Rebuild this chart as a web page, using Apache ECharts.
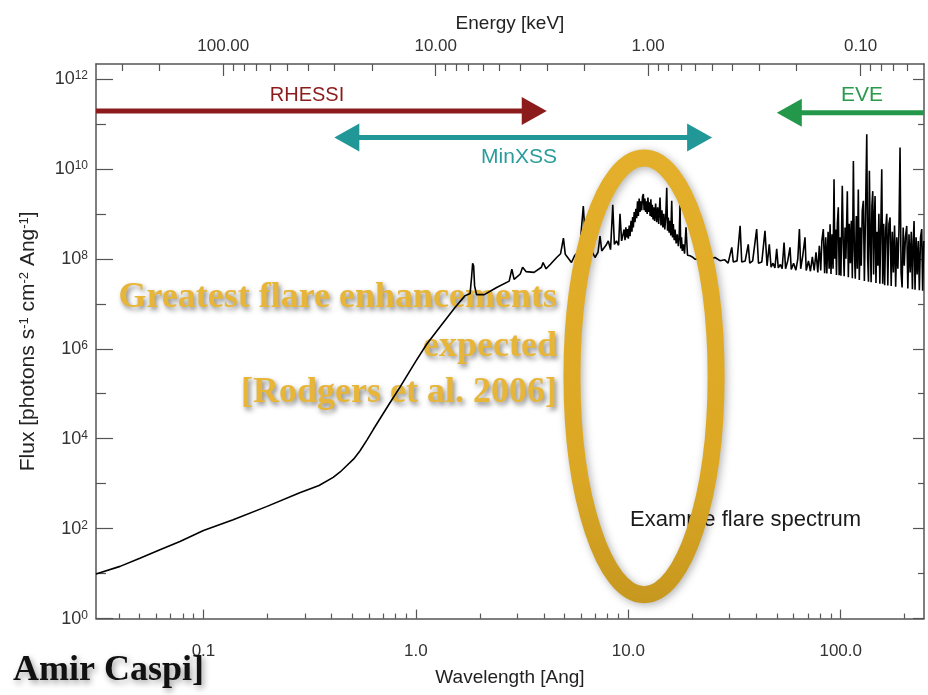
<!DOCTYPE html>
<html>
<head>
<meta charset="utf-8">
<script src="https://cdn.jsdelivr.net/npm/echarts@6/dist/echarts.min.js"></script>
<style>html,body{margin:0;padding:0;background:#fff}#chart{width:928px;height:695px}</style>
</head>
<body>
<div id="chart"></div>
<script>
// ---------------- data ----------------
// Wavelength [Angstrom]
const wavelength = [
  0.0312, 0.0405, 0.0502, 0.0624, 0.0775, 0.1, 0.138, 0.198, 0.284, 0.35, 0.408, 0.44, 0.472, 0.51, 0.546, 0.59,
  0.63, 0.75, 0.842, 1.0, 1.124, 1.3, 1.528, 1.70, 1.80, 1.83, 1.85, 1.87, 1.89, 1.93,
  2.1, 2.4, 2.75, 2.83, 2.9, 3.1, 3.18, 3.3, 3.6, 3.9, 3.97, 4.1, 4.3, 4.6, 4.8, 4.95, 5.05,
  5.4, 5.6, 5.9, 6.14, 6.3, 6.5, 6.73, 6.97, 7.2, 7.36, 7.5, 7.63, 7.85, 8.05, 8.25, 8.45,
  8.6, 8.8, 9.0, 9.14, 9.3,
  9.47, 9.56, 9.65, 9.74, 9.83, 9.92, 10.0, 10.1, 10.19, 10.3, 10.4, 10.48, 10.56, 10.66, 10.75,
  10.85, 10.95, 11.05, 11.15, 11.25, 11.35, 11.45, 11.56, 11.66, 11.77, 11.87, 11.97, 12.07, 12.17,
  12.27, 12.37, 12.47, 12.57, 12.67, 12.77, 12.87, 12.97, 13.07, 13.17, 13.3, 13.45, 13.6, 13.75,
  13.9, 14.1, 14.25, 14.4, 14.55, 14.7, 14.85, 15.0, 15.17, 15.3, 15.43, 15.56, 15.7, 15.85, 16.01,
  16.15, 16.29, 16.45, 16.6, 16.8, 17.0, 17.2, 17.35, 17.52, 17.65, 17.8, 17.95, 18.15, 18.4, 18.69,
  19.0, 19.52, 20.0, 20.6, 22.0, 23.5, 25.6, 27.0, 28.5, 29.5, 30.7, 31.2, 32.5, 33.6, 34.2,
  35.5, 36.7, 37.3, 38.5, 40.2, 41.0, 42.5, 44.0, 45.0, 46.1, 47.0, 48.0, 49.0, 49.96, 50.8,
  52.0, 53.0, 54.1, 55.0, 56.3, 57.7, 58.5, 60.0, 61.5, 62.8, 63.9, 64.8, 66.3, 67.9, 68.8,
  70.5, 72.0, 73.5, 75.0, 76.5, 78.0, 79.3, 80.5, 81.5, 82.8,
  84.0, 85.0, 86.0, 87.2, 88.2, 89.1, 90.0, 91.0, 92.0, 93.0, 93.8, 94.6, 95.5, 96.4, 97.4,
  98.3, 99.2, 100.2, 101.7, 102.8, 103.8, 104.8, 105.8, 107.4, 108.6, 109.8, 111.0, 112.2,
  113.4, 114.7, 115.9, 117.1, 118.4, 119.7, 121.0, 122.3, 123.6, 124.9, 126.3, 127.8, 129.2,
  130.6, 132.6, 133.9, 135.1, 136.4, 137.8, 139.0, 140.2, 141.5, 142.8, 144.0, 145.1, 146.5,
  148.0, 149.6, 151.2, 152.8, 154.4, 156.0, 157.6, 159.3, 161.0, 162.8, 164.7, 166.6, 168.6,
  170.7, 172.8, 174.9, 177.0, 179.2, 181.4, 183.6, 185.8, 188.0, 190.2, 192.3, 194.5, 196.8,
  199.1, 201.6, 204.5, 207.0, 209.6, 212.2, 214.8, 217.5, 219.5, 221.4, 223.8, 226.4, 229.0,
  231.8, 234.5, 237.5, 240.6, 243.0, 246.0
];
// Flux [photons s^-1 cm^-2 Ang^-1]
const flux = [
  9.8, 14.5, 22, 34, 52, 91, 158, 309, 630, 912, 1380, 1820, 2500, 3550, 5400, 9550,
  1.6e4, 6.0e4, 1.4e5, 5.3e5, 1.26e6, 3.1e6, 8.3e6, 1.5e7, 1.7e7, 4.0e7, 8.0e7, 7.0e7, 2.5e7, 1.6e7,
  1.6e7, 2.3e7, 3.2e7, 5.9e7, 3.5e7, 4.6e7, 6.5e7, 5.2e7, 5.0e7, 6.5e7, 8.3e7, 6.0e7, 7.6e7, 1.07e8, 1.3e8, 2.9e8, 1.26e8,
  8.3e7, 1.2e8, 1.5e8, 1.5e9, 2.0e8, 1.4e8, 1.5e8, 1.07e8, 1.4e8, 3.2e8, 1.5e8, 1.5e8, 2.0e8, 2.5e8, 1.6e8, 1.6e9,
  2.1e8, 2.5e8, 2.0e8, 1.0e9, 2.5e8,
  2.5e8, 4.5e8, 2.6e8, 5.0e8, 3.0e8, 4.6e8, 2.8e8, 5.5e8, 3.2e8, 7.0e8, 4.0e8, 8.5e8, 5.0e8, 1.1e9, 6.5e8,
  1.3e9, 8.0e8, 1.9e9, 9.0e8, 2.2e9, 1.1e9, 1.9e9, 1.2e9, 2.4e9, 2.75e9, 1.2e9, 2.2e9, 1.1e9, 1.9e9,
  1.0e9, 2.3e9, 1.1e9, 1.8e9, 9.0e8, 2.1e9, 8.5e8, 1.6e9, 7.5e8, 1.4e9, 7.0e8, 1.7e9, 6.5e8, 1.4e9,
  6.0e8, 2.3e9, 5.5e8, 1.2e9, 5.0e8, 1.0e9, 4.5e8, 8.0e8, 3.8e9, 4.2e8, 8.3e8, 3.8e8, 7.0e8, 3.3e8, 1.95e9,
  3.0e8, 5.9e8, 2.6e8, 4.5e8, 2.2e8, 3.5e8, 1.9e8, 3.0e8, 1.6e9, 1.7e8, 3.0e8, 1.5e8, 2.1e8, 1.3e8, 5.0e8,
  1.2e8, 1.17e8, 1.1e8, 9.8e7, 1.0e8, 9.5e7, 1.07e8, 9.1e7, 9.5e7, 8.0e7, 1.8e8, 8.5e7, 9.0e7, 5.4e8, 8.5e7,
  9.0e7, 2.1e8, 8.0e7, 9.0e7, 4.6e8, 8.0e7, 8.5e7, 4.2e8, 7.0e7, 2.1e8, 6.5e7, 8.0e7, 6.3e7, 1.66e8, 6.3e7,
  7.5e7, 6.0e7, 2.3e8, 6.0e7, 9.0e7, 1.8e8, 5.8e7, 8.0e7, 5.6e7, 1.0e8, 4.6e8, 6.0e7, 1.2e8, 3.0e8, 5.5e7,
  9.0e7, 5.3e7, 1.1e8, 5.5e7, 1.4e8, 5.0e7, 1.95e8, 5.5e7, 2.5e8, 4.6e8,
  4.8e7, 3.0e8, 4.7e7, 4.0e8, 6.0e7, 5.9e8, 4.6e7, 3.5e8, 6.0e7, 5.9e9, 1.0e8, 4.5e8, 4.4e7, 6.0e8, 1.4e9,
  4.3e7, 3.0e8, 4.2e7, 4.2e9, 2.0e8, 4.1e7, 5.0e8, 1.0e8, 3.2e9, 3.9e7, 6.0e8, 8.0e7, 7.0e8,
  3.7e7, 1.5e10, 1.5e8, 3.6e7, 9.0e8, 6.0e7, 3.5e9, 3.4e7, 5.0e8, 7.0e7, 1.2e9, 1.95e9, 3.2e7,
  6.0e8, 5.9e10, 1.0e8, 3.1e7, 9.1e9, 2.5e8, 3.0e7, 1.5e9, 3.2e9, 4.5e7, 8.0e8, 2.5e9, 2.9e7,
  4.0e8, 7.0e7, 1.0e9, 2.8e7, 5.0e8, 9.8e9, 2.8e7, 6.0e8, 2.6e7, 4.5e8, 1.0e9, 2.55e7, 6.0e8,
  8.3e8, 2.5e7, 4.0e8, 5.0e7, 5.5e8, 2.4e7, 3.0e8, 6.0e7, 4.5e8, 3.0e10, 5.0e7, 2.3e7, 5.0e8,
  7.0e7, 3.0e8, 5.4e8, 2.2e7, 3.5e8, 5.0e7, 4.0e8, 2.1e7, 2.5e8, 6.9e8, 2.05e7, 3.0e8, 4.5e7,
  2.5e8, 2.0e7, 3.0e8, 4.6e8, 1.95e7, 2.5e8
];

// Tick values
const wavelengthTicks = [0.1, 1, 10, 100];
const wavelengthMinorTicks = [0.04, 0.05, 0.06, 0.07, 0.08, 0.09, 0.2, 0.3, 0.4, 0.5, 0.6, 0.7, 0.8, 0.9,
  2, 3, 4, 5, 6, 7, 8, 9, 20, 30, 40, 50, 60, 70, 80, 90, 200];
const energyTicks = [100, 10, 1, 0.1];
const energyMinorTicks = [300, 200, 90, 80, 70, 60, 50, 40, 30, 20, 9, 8, 7, 6, 5, 4, 3, 2,
  0.9, 0.8, 0.7, 0.6, 0.5, 0.4, 0.3, 0.2, 0.09, 0.08, 0.07, 0.06];
const fluxTicks = [1, 1e2, 1e4, 1e6, 1e8, 1e10, 1e12];
const fluxMinorTicks = [1e1, 1e3, 1e5, 1e7, 1e9, 1e11];

// Instrument coverage (wavelength ranges, Angstrom) and arrow flux level
const instruments = ['RHESSI', 'MinXSS', 'EVE'];
const instrumentFrom = [0.00073, 0.413, 50];
const instrumentTo = [4.13, 24.8, 1050];
const instrumentFlux = [1.95e11, 4.97e10, 1.78e11];

// Highlighted region (wavelength left/right, flux bottom/top)
const highlightRegion = [5.43, 25.9, 3.4, 1.74e10];

// Axis ranges
const WL_MIN = 0.0312, WL_MAX = 246.6;
const FLUX_MIN = 1, FLUX_MAX = 2.15e12;
const HC = 12.398; // keV * Angstrom

// ---------------- styles ----------------
const FONT = '"Liberation Sans", Arial, Helvetica, sans-serif';
const SERIF = '"Liberation Serif", "Times New Roman", serif';
const AXIS_COLOR = '#555';
const LABEL_COLOR = '#333';
const arrowColors = ['#8c1c1c', '#229797', '#23984a'];
const GOLD_TEXT = '#e7b537';

const chart = echarts.init(document.getElementById('chart'), null, {renderer: 'canvas'});

const gridRect = {left: 96, right: 4, top: 64, bottom: 76.4, containLabel: false, outerBoundsMode: 'none'};

function tickStyle(len, values) {
  return {show: true, inside: true, length: len, customValues: values, lineStyle: {color: AXIS_COLOR, width: 1.2}};
}

function goldText(txt, x, y) {
  return {type: 'text', x: x, y: y, z: 1, style: {text: txt, font: 'bold 36px ' + SERIF, fill: GOLD_TEXT,
    align: 'right', verticalAlign: 'middle', textAlign: 'right', textVerticalAlign: 'middle',
    textShadowBlur: 5, textShadowColor: 'rgba(50,50,50,0.6)', textShadowOffsetX: 2, textShadowOffsetY: 3}};
}

const option = {
  animation: false,
  backgroundColor: '#ffffff',
  grid: [Object.assign({}, gridRect), Object.assign({}, gridRect)],
  xAxis: [
    { // wavelength, majors
      type: 'log', gridIndex: 0, position: 'bottom', min: WL_MIN, max: WL_MAX,
      name: 'Wavelength [Ang]', nameLocation: 'middle', nameGap: 50,
      nameTextStyle: {fontFamily: FONT, fontSize: 19, color: '#222'},
      axisLine: {show: true, lineStyle: {color: AXIS_COLOR, width: 1.5}},
      axisTick: tickStyle(9, wavelengthTicks),
      axisLabel: {customValues: wavelengthTicks, margin: 24, fontFamily: FONT, fontSize: 17, color: LABEL_COLOR,
        formatter: v => Number(v).toFixed(1)},
      splitLine: {show: false}, minorTick: {show: false}
    },
    { // energy, majors
      type: 'log', gridIndex: 0, position: 'top', inverse: true, min: HC / WL_MAX, max: HC / WL_MIN,
      name: 'Energy [keV]', nameLocation: 'middle', nameGap: 30,
      nameTextStyle: {fontFamily: FONT, fontSize: 19, color: '#222'},
      axisLine: {show: true, lineStyle: {color: AXIS_COLOR, width: 1.5}},
      axisTick: tickStyle(12, energyTicks),
      axisLabel: {customValues: energyTicks, margin: 9, fontFamily: FONT, fontSize: 17, color: LABEL_COLOR,
        formatter: v => Number(v).toFixed(2)},
      splitLine: {show: false}
    },
    { // wavelength minors
      type: 'log', gridIndex: 1, position: 'bottom', min: WL_MIN, max: WL_MAX,
      axisLine: {show: false}, axisTick: tickStyle(5, wavelengthMinorTicks),
      axisLabel: {show: false, customValues: wavelengthMinorTicks}, splitLine: {show: false}
    },
    { // energy minors
      type: 'log', gridIndex: 1, position: 'top', inverse: true, min: HC / WL_MAX, max: HC / WL_MIN,
      axisLine: {show: false}, axisTick: tickStyle(7, energyMinorTicks),
      axisLabel: {show: false, customValues: energyMinorTicks}, splitLine: {show: false}
    }
  ],
  yAxis: [
    {
      type: 'log', gridIndex: 0, position: 'left', min: FLUX_MIN, max: FLUX_MAX,
      name: 'Flux [photons s{s|-1} cm{s|-2} Ang{s|-1}]', nameLocation: 'middle', nameGap: 57, nameRotate: 90,
      nameTextStyle: {fontFamily: FONT, fontSize: 21, color: '#222',
        rich: {s: {fontFamily: FONT, fontSize: 13, verticalAlign: 'top', color: '#222'}}},
      axisLine: {show: true, lineStyle: {color: AXIS_COLOR, width: 1.5}},
      axisTick: tickStyle(17, fluxTicks),
      axisLabel: {customValues: fluxTicks, margin: 8, color: LABEL_COLOR,
        formatter: v => '{b|10}{s|' + Math.round(Math.log10(v)) + '}',
        rich: {
          b: {fontFamily: FONT, fontSize: 18, color: LABEL_COLOR},
          s: {fontFamily: FONT, fontSize: 12, verticalAlign: 'top', color: LABEL_COLOR}
        }},
      splitLine: {show: false}
    },
    {
      type: 'log', gridIndex: 0, position: 'right', min: FLUX_MIN, max: FLUX_MAX,
      axisLine: {show: true, lineStyle: {color: AXIS_COLOR, width: 1.5}},
      axisTick: tickStyle(11, fluxTicks),
      axisLabel: {show: false, customValues: fluxTicks}, splitLine: {show: false}
    },
    {
      type: 'log', gridIndex: 1, position: 'left', min: FLUX_MIN, max: FLUX_MAX,
      axisLine: {show: false}, axisTick: tickStyle(10, fluxMinorTicks),
      axisLabel: {show: false, customValues: fluxMinorTicks}, splitLine: {show: false}
    },
    {
      type: 'log', gridIndex: 1, position: 'right', min: FLUX_MIN, max: FLUX_MAX,
      axisLine: {show: false}, axisTick: tickStyle(6, fluxMinorTicks),
      axisLabel: {show: false, customValues: fluxMinorTicks}, splitLine: {show: false}
    }
  ],
  graphic: [
    {type: 'text', x: 307, y: 95, z: 1, style: {text: 'RHESSI', font: '20px ' + FONT, fill: arrowColors[0],
      align: 'center', verticalAlign: 'middle', textAlign: 'center', textVerticalAlign: 'middle'}},
    {type: 'text', x: 519, y: 157, z: 1, style: {text: 'MinXSS', font: '21px ' + FONT, fill: '#2a9c9c',
      align: 'center', verticalAlign: 'middle', textAlign: 'center', textVerticalAlign: 'middle'}},
    {type: 'text', x: 862, y: 95, z: 1, style: {text: 'EVE', font: '21px ' + FONT, fill: '#2a9a4c',
      align: 'center', verticalAlign: 'middle', textAlign: 'center', textVerticalAlign: 'middle'}},
    {type: 'text', x: 630, y: 520, z: 1, style: {text: 'Example flare spectrum', font: '22px ' + FONT, fill: '#1a1a1a',
      align: 'left', verticalAlign: 'middle', textAlign: 'left', textVerticalAlign: 'middle'}},
    goldText('Greatest flare enhancements', 557, 298),
    goldText('expected', 557, 347),
    goldText('[Rodgers et al. 2006]', 557, 393),
    {type: 'text', x: 13, y: 671, z: 100, style: {text: 'Amir Caspi]', font: 'bold 36px ' + SERIF, fill: '#111',
      align: 'left', verticalAlign: 'middle', textAlign: 'left', textVerticalAlign: 'middle',
      textShadowBlur: 6, textShadowColor: 'rgba(0,0,0,0.4)', textShadowOffsetX: 2, textShadowOffsetY: 3}}
  ],
  series: [
    {
      name: 'Example flare spectrum', type: 'line', xAxisIndex: 0, yAxisIndex: 0, z: 2,
      data: wavelength.map((w, i) => [w, flux[i]]),
      showSymbol: false, symbol: 'none', clip: true,
      lineStyle: {color: '#000', width: 1.6}
    },
    {
      name: 'highlight', type: 'custom', xAxisIndex: 0, yAxisIndex: 0, z: 5,
      data: [highlightRegion], encode: {x: [0, 1], y: [2, 3]},
      renderItem: (params, api) => {
        const p1 = api.coord([api.value(0), api.value(3)]);
        const p2 = api.coord([api.value(1), api.value(2)]);
        return {
          type: 'ellipse',
          shape: {cx: (p1[0] + p2[0]) / 2, cy: (p1[1] + p2[1]) / 2,
                  rx: Math.abs(p2[0] - p1[0]) / 2, ry: Math.abs(p2[1] - p1[1]) / 2},
          style: {
            fill: 'none', lineWidth: 17,
            stroke: new echarts.graphic.LinearGradient(0, 0, 0, 1, [
              {offset: 0, color: '#e4b02b'}, {offset: 0.7, color: '#dca824'}, {offset: 1, color: '#c7981f'}]),
            shadowBlur: 8, shadowColor: 'rgba(0,0,0,0.3)', shadowOffsetX: 2, shadowOffsetY: 2
          }
        };
      }
    },
    {
      name: 'instruments', type: 'custom', xAxisIndex: 0, yAxisIndex: 0, z: 6,
      data: instruments.map((n, i) => [instrumentFrom[i], instrumentTo[i], instrumentFlux[i], i]),
      encode: {x: [0, 1], y: 2},
      renderItem: (params, api) => {
        const i = api.value(3);
        const from = api.value(0), to = api.value(1);
        const headFrom = from >= WL_MIN, headTo = to <= WL_MAX;
        const a = api.coord([Math.max(from, WL_MIN), api.value(2)]);
        const b = api.coord([Math.min(to, WL_MAX), api.value(2)]);
        const col = arrowColors[i];
        const hl = 25, hw = 14;
        const children = [{
          type: 'line',
          shape: {x1: headFrom ? a[0] + hl - 2 : a[0], y1: a[1], x2: headTo ? b[0] - hl + 2 : b[0], y2: b[1]},
          style: {stroke: col, lineWidth: 5}
        }];
        if (headFrom) children.push({type: 'polygon',
          shape: {points: [[a[0], a[1]], [a[0] + hl, a[1] - hw], [a[0] + hl, a[1] + hw]]}, style: {fill: col}});
        if (headTo) children.push({type: 'polygon',
          shape: {points: [[b[0], b[1]], [b[0] - hl, b[1] - hw], [b[0] - hl, b[1] + hw]]}, style: {fill: col}});
        return {type: 'group', children: children};
      }
    }
  ]
};

chart.setOption(option);
</script>
</body>
</html>
